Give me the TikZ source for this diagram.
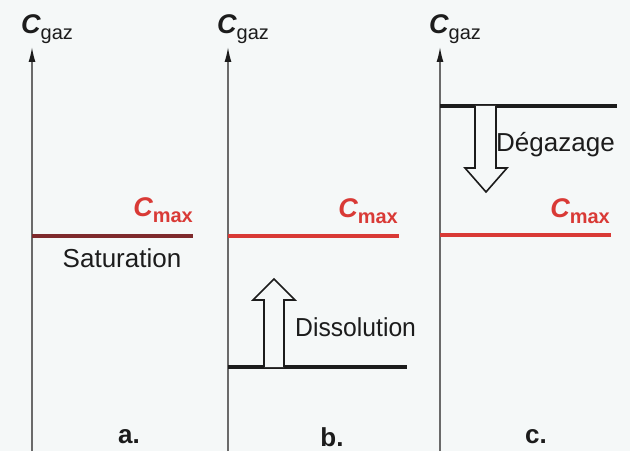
\documentclass[tikz,border=0pt]{standalone}
\usepackage{fontspec}
\setmainfont{Liberation Sans}
\usetikzlibrary{arrows.meta}
\definecolor{paper}{HTML}{F5F8F8}
\definecolor{axisgray}{HTML}{6A6A6A}
\definecolor{maxred}{HTML}{D93A36}
\definecolor{satred}{HTML}{7E2A2C}
\definecolor{inkdark}{HTML}{1C1C1C}
\newcommand{\conc}[1]{{\fontsize{27}{30}\selectfont\bfseries\itshape C}\raisebox{-0.22em}{\fontsize{20}{22}\selectfont #1}}

\begin{document}
\begin{tikzpicture}[x=1pt,y=-1pt,
  axis/.style={draw=axisgray,line width=1.5pt,-{Latex[length=15pt,width=7pt,color=inkdark]}},
  level/.style={line width=4.5pt},
  hollow/.style={draw=inkdark,line width=1.6pt,fill=paper,line join=miter},
  every node/.style={font=\fontsize{26}{30}\selectfont,inner sep=0pt,text=inkdark}]
\fill[paper] (0,0) rectangle (630,451);

% axes
\foreach \px/\pn in {32/a,228/b,440/c}{
  \coordinate (base\pn) at (\px,451);
  \coordinate (top\pn) at (\px,47);
  \draw[axis] (base\pn) -- (top\pn);
  \node[anchor=west] (cgaz\pn) at (\px-11,29) {\conc{gaz}};
}
\node (taga) at (129,437) {\bfseries a.};
\node (tagb) at (332,437) {\bfseries b.};
\node (tagc) at (536,437) {\bfseries c.};

% a. saturation
\coordinate (sata) at (32,236);
\coordinate (satb) at (193,236);
\draw[level,draw=satred] (sata) -- (satb);
\node[anchor=east,text=maxred] (cmaxa) at (193,210) {\conc{\bfseries max}};
\node (satur) at (122,258) {Saturation};

% b. dissolution
\coordinate (maxbl) at (228,236);
\coordinate (maxbr) at (399,236);
\draw[level,draw=maxred] (maxbl) -- (maxbr);
\node[anchor=east,text=maxred] (cmaxb) at (398,211) {\conc{\bfseries max}};
\coordinate (lowbl) at (228,367);
\coordinate (lowbr) at (407,367);
\draw[line width=3.5pt,draw=inkdark] (lowbl) -- (lowbr);
\draw[hollow] (264,367) -- (264,300) -- (253,300) -- (274,279) -- (295,300)
  -- (284,300) -- (284,367);
\node[anchor=west,xscale=0.95] (dissol) at (295,327) {Dissolution};

% c. degazage
\coordinate (highcl) at (440,106);
\coordinate (highcr) at (617,106);
\draw[line width=3.5pt,draw=inkdark] (highcl) -- (highcr);
\draw[hollow] (475,106) -- (475,168) -- (465,168) -- (486,192) -- (507,168)
  -- (496,168) -- (496,106);
\node[anchor=west] (degaz) at (496,145) {Dégazage};
\coordinate (maxcl) at (440,235);
\coordinate (maxcr) at (611,235);
\draw[level,draw=maxred] (maxcl) -- (maxcr);
\node[anchor=east,text=maxred] (cmaxc) at (610,211) {\conc{\bfseries max}};
\end{tikzpicture}
\end{document}
